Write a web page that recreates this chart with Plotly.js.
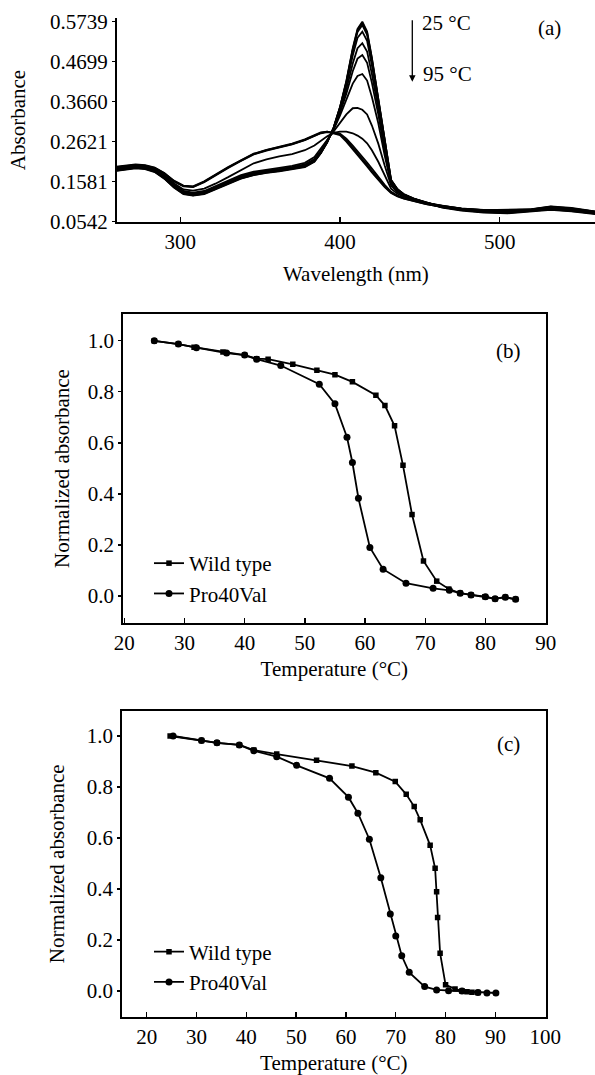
<!DOCTYPE html>
<html>
<head>
<meta charset="utf-8">
<script src="https://cdn.plot.ly/plotly-3.0.1.min.js"></script>
<style>html,body{margin:0;padding:0;background:#fff;}#chart{width:595px;height:1075px;}</style>
</head>
<body>
<div id="chart"></div>
<script>
// ---------- Panel (a): UV-vis spectra, 25 °C -> 95 °C ----------
const wavelength = [260, 266, 272, 278, 284, 290, 296, 302, 308, 315, 322, 330, 338, 346, 354, 362, 370, 378, 384, 388, 392, 396, 400, 404, 408, 411, 414, 417, 420, 424, 428, 432, 436, 440, 446, 454, 464, 476, 490, 505, 520, 532, 545, 560];
const abs25 = [0.186, 0.190, 0.193, 0.191, 0.183, 0.166, 0.143, 0.126, 0.122, 0.126, 0.138, 0.153, 0.166, 0.175, 0.181, 0.185, 0.190, 0.196, 0.210, 0.232, 0.260, 0.298, 0.352, 0.420, 0.505, 0.555, 0.574, 0.548, 0.480, 0.375, 0.260, 0.162, 0.138, 0.124, 0.113, 0.103, 0.096, 0.088, 0.085, 0.083, 0.086, 0.092, 0.088, 0.080];
const abs30 = [0.188, 0.192, 0.195, 0.193, 0.185, 0.167, 0.144, 0.127, 0.123, 0.127, 0.139, 0.154, 0.167, 0.176, 0.182, 0.186, 0.191, 0.197, 0.211, 0.233, 0.261, 0.298, 0.351, 0.418, 0.502, 0.552, 0.571, 0.545, 0.478, 0.374, 0.259, 0.163, 0.139, 0.125, 0.114, 0.104, 0.091, 0.083, 0.078, 0.076, 0.080, 0.085, 0.081, 0.074];
const abs40 = [0.187, 0.191, 0.194, 0.192, 0.184, 0.168, 0.145, 0.128, 0.124, 0.128, 0.140, 0.155, 0.168, 0.177, 0.183, 0.187, 0.192, 0.198, 0.212, 0.233, 0.261, 0.298, 0.350, 0.416, 0.498, 0.547, 0.565, 0.540, 0.473, 0.370, 0.257, 0.162, 0.138, 0.126, 0.115, 0.102, 0.095, 0.089, 0.084, 0.085, 0.087, 0.094, 0.090, 0.081];
const abs50 = [0.189, 0.193, 0.196, 0.194, 0.186, 0.169, 0.146, 0.129, 0.125, 0.129, 0.141, 0.156, 0.169, 0.178, 0.184, 0.188, 0.193, 0.199, 0.213, 0.234, 0.262, 0.297, 0.347, 0.409, 0.486, 0.532, 0.548, 0.524, 0.460, 0.362, 0.252, 0.160, 0.137, 0.124, 0.114, 0.104, 0.093, 0.085, 0.080, 0.078, 0.083, 0.087, 0.083, 0.075];
const abs60 = [0.188, 0.192, 0.195, 0.193, 0.186, 0.169, 0.147, 0.130, 0.126, 0.130, 0.142, 0.157, 0.170, 0.179, 0.185, 0.189, 0.194, 0.200, 0.214, 0.235, 0.263, 0.296, 0.342, 0.398, 0.465, 0.505, 0.518, 0.496, 0.438, 0.348, 0.245, 0.158, 0.136, 0.125, 0.113, 0.103, 0.094, 0.087, 0.083, 0.082, 0.085, 0.091, 0.086, 0.078];
const abs65 = [0.189, 0.193, 0.196, 0.194, 0.187, 0.170, 0.148, 0.131, 0.127, 0.131, 0.143, 0.158, 0.171, 0.180, 0.186, 0.190, 0.195, 0.201, 0.215, 0.236, 0.264, 0.295, 0.337, 0.387, 0.445, 0.478, 0.487, 0.467, 0.415, 0.333, 0.238, 0.156, 0.135, 0.124, 0.114, 0.104, 0.092, 0.084, 0.079, 0.077, 0.082, 0.086, 0.082, 0.076];
const abs70 = [0.190, 0.194, 0.197, 0.195, 0.188, 0.171, 0.149, 0.132, 0.128, 0.132, 0.144, 0.159, 0.172, 0.181, 0.187, 0.191, 0.196, 0.203, 0.217, 0.238, 0.265, 0.293, 0.330, 0.370, 0.413, 0.433, 0.438, 0.421, 0.378, 0.310, 0.226, 0.153, 0.134, 0.123, 0.113, 0.103, 0.095, 0.088, 0.084, 0.084, 0.086, 0.093, 0.089, 0.080];
const abs75 = [0.191, 0.195, 0.198, 0.196, 0.189, 0.172, 0.151, 0.134, 0.130, 0.134, 0.146, 0.161, 0.175, 0.184, 0.190, 0.194, 0.199, 0.207, 0.222, 0.244, 0.268, 0.290, 0.312, 0.333, 0.349, 0.350, 0.345, 0.333, 0.304, 0.257, 0.200, 0.148, 0.131, 0.122, 0.112, 0.102, 0.093, 0.086, 0.081, 0.079, 0.084, 0.088, 0.084, 0.077];
const abs80 = [0.192, 0.196, 0.199, 0.197, 0.190, 0.175, 0.154, 0.138, 0.135, 0.140, 0.153, 0.170, 0.188, 0.206, 0.216, 0.224, 0.230, 0.240, 0.252, 0.264, 0.276, 0.285, 0.288, 0.288, 0.284, 0.278, 0.270, 0.258, 0.240, 0.210, 0.175, 0.140, 0.127, 0.119, 0.111, 0.102, 0.092, 0.085, 0.082, 0.080, 0.085, 0.090, 0.087, 0.079];
const abs85 = [0.195, 0.198, 0.201, 0.199, 0.193, 0.179, 0.159, 0.146, 0.144, 0.157, 0.175, 0.194, 0.212, 0.229, 0.239, 0.247, 0.255, 0.266, 0.277, 0.284, 0.287, 0.286, 0.283, 0.270, 0.252, 0.238, 0.224, 0.208, 0.192, 0.170, 0.150, 0.132, 0.122, 0.116, 0.109, 0.101, 0.093, 0.086, 0.082, 0.081, 0.083, 0.089, 0.085, 0.076];
const abs90 = [0.196, 0.199, 0.202, 0.200, 0.194, 0.180, 0.160, 0.147, 0.145, 0.158, 0.176, 0.195, 0.213, 0.230, 0.240, 0.248, 0.256, 0.267, 0.278, 0.285, 0.288, 0.285, 0.281, 0.266, 0.247, 0.232, 0.217, 0.202, 0.186, 0.165, 0.146, 0.130, 0.121, 0.115, 0.108, 0.100, 0.092, 0.087, 0.083, 0.080, 0.086, 0.091, 0.087, 0.078];
const abs95 = [0.197, 0.200, 0.203, 0.201, 0.195, 0.181, 0.161, 0.148, 0.146, 0.159, 0.177, 0.196, 0.214, 0.231, 0.241, 0.249, 0.257, 0.268, 0.279, 0.286, 0.288, 0.284, 0.279, 0.262, 0.243, 0.228, 0.213, 0.198, 0.182, 0.162, 0.144, 0.129, 0.120, 0.114, 0.108, 0.100, 0.093, 0.085, 0.081, 0.079, 0.084, 0.088, 0.085, 0.077];
const spectraLabels = ['25 °C', '30 °C', '40 °C', '50 °C', '60 °C', '65 °C', '70 °C', '75 °C', '80 °C', '85 °C', '90 °C', '95 °C'];
const absTickVals = [0.0542, 0.1581, 0.2621, 0.3660, 0.4699, 0.5739];
const absTickText = ['0.0542', '0.1581', '0.2621', '0.3660', '0.4699', '0.5739'];

// ---------- Panel (b) ----------
const tempWT_b = [25, 29, 31.6, 36.4, 40, 42, 43.9, 48, 52, 55, 57.9, 61.8, 63.3, 64.9, 66.3, 67.8, 69.7, 71.9, 73.9, 75.8, 77.6, 79.9, 81.6, 83.3, 85];
const normWT_b = [1.0, 0.987, 0.975, 0.956, 0.944, 0.930, 0.928, 0.908, 0.885, 0.867, 0.839, 0.787, 0.746, 0.667, 0.512, 0.319, 0.137, 0.058, 0.027, 0.011, 0.004, -0.003, -0.011, -0.005, -0.013];
const tempPV_b = [25, 29, 32, 37, 40, 42, 46, 52.4, 55, 57, 57.9, 58.9, 60.8, 63, 66.8, 71.3, 74, 75.8, 77.6, 80, 81.6, 83.3, 85];
const normPV_b = [1.0, 0.987, 0.973, 0.952, 0.944, 0.928, 0.903, 0.830, 0.753, 0.622, 0.523, 0.383, 0.190, 0.105, 0.050, 0.030, 0.022, 0.011, 0.004, -0.003, -0.011, -0.005, -0.013];

// ---------- Panel (c) ----------
const tempWT_c = [24.7, 31, 34.1, 38.6, 41.5, 46.1, 54.1, 61.2, 66, 69.9, 72.1, 73.7, 74.9, 76.9, 77.9, 78.2, 78.4, 78.9, 80.0, 81.9, 83.3, 84.3, 85.3, 86.5];
const normWT_c = [1.0, 0.982, 0.973, 0.965, 0.945, 0.929, 0.905, 0.882, 0.856, 0.821, 0.771, 0.723, 0.671, 0.571, 0.481, 0.389, 0.288, 0.148, 0.024, 0.008, 0.0, -0.003, -0.005, -0.006];
const tempPV_c = [25.3, 31, 34.1, 38.6, 41.5, 46.1, 50.1, 56.7, 60.5, 62.4, 64.7, 67, 68.9, 70, 71.2, 72.7, 75.8, 78.2, 80.6, 83.3, 86.5, 88.3, 90.1];
const normPV_c = [1.0, 0.982, 0.973, 0.965, 0.942, 0.919, 0.885, 0.834, 0.760, 0.697, 0.595, 0.444, 0.302, 0.216, 0.138, 0.073, 0.017, 0.004, 0.001, 0.0, -0.006, -0.008, -0.008];

const seriesNames = ['Wild type', 'Pro40Val'];
const tempTickVals_b = [20, 30, 40, 50, 60, 70, 80, 90];
const tempTickVals_c = [20, 30, 40, 50, 60, 70, 80, 90, 100];
const normTickVals = [0.0, 0.2, 0.4, 0.6, 0.8, 1.0];

const W = 595, H = 1075;
const FONT = 'Liberation Serif, Times New Roman, serif';
const px = v => v / W;
const py = v => 1 - v / H;

const spectra = [abs25, abs30, abs40, abs50, abs60, abs65, abs70, abs75, abs80, abs85, abs90, abs95];
const traces = spectra.map((s, i) => ({
  x: wavelength, y: s, type: 'scatter', mode: 'lines', name: spectraLabels[i],
  line: {color: '#000', width: 1.8}, showlegend: false, xaxis: 'x', yaxis: 'y'
}));

function tempTraces(xw, yw, xp, yp, xa, ya, leg) {
  return [
    {x: xw, y: yw, type: 'scatter', mode: 'lines+markers', name: seriesNames[0],
     line: {color: '#000', width: 1.8}, marker: {symbol: 'square', size: 5.5, color: '#000'},
     xaxis: xa, yaxis: ya, legend: leg},
    {x: xp, y: yp, type: 'scatter', mode: 'lines+markers', name: seriesNames[1],
     line: {color: '#000', width: 1.8}, marker: {symbol: 'circle', size: 7, color: '#000'},
     xaxis: xa, yaxis: ya, legend: leg}
  ];
}
traces.push(...tempTraces(tempWT_b, normWT_b, tempPV_b, normPV_b, 'x2', 'y2', 'legend'));
traces.push(...tempTraces(tempWT_c, normWT_c, tempPV_c, normPV_c, 'x3', 'y3', 'legend2'));

const axBase = {
  showline: true, linecolor: '#000', linewidth: 1.8, ticks: 'inside', ticklen: 5, tickwidth: 1.3,
  tickcolor: '#000', showgrid: false, zeroline: false, automargin: false,
  tickfont: {family: FONT, size: 21, color: '#000'}
};
const yBase = Object.assign({}, axBase, {ticks: 'outside', ticklen: 3});
const titleFont = {family: FONT, size: 21, color: '#000'};

const layout = {
  width: W, height: H, margin: {l: 0, r: 0, t: 0, b: 0},
  paper_bgcolor: '#fff', plot_bgcolor: '#fff',
  font: {family: FONT, size: 21, color: '#000'},
  xaxis: Object.assign({}, axBase, {
    domain: [px(116.7), 1], range: [260.2, 559.7], tickvals: [300, 400, 500],
    anchor: 'y', title: {text: 'Wavelength (nm)', font: titleFont, standoff: 13}
  }),
  yaxis: Object.assign({}, yBase, {
    domain: [py(221.7), py(18.3)], range: [0.0542, 0.5827], tickvals: absTickVals, ticktext: absTickText,
    anchor: 'x', title: {text: 'Absorbance', font: titleFont, standoff: 19}
  }),
  xaxis2: Object.assign({}, axBase, {
    domain: [px(123), px(545.7)], range: [19.8, 90.0], tickvals: tempTickVals_b, mirror: true,
    anchor: 'y2', title: {text: 'Temperature (°C)', font: titleFont, standoff: 7}
  }),
  yaxis2: Object.assign({}, yBase, {
    domain: [py(623), py(314)], range: [-0.106, 1.105], tickvals: normTickVals, tickformat: '.1f', mirror: true,
    anchor: 'x2', title: {text: 'Normalized absorbance', font: titleFont, standoff: 12}
  }),
  xaxis3: Object.assign({}, axBase, {
    domain: [px(122), px(545.7)], range: [15.04, 100.1], tickvals: tempTickVals_c, mirror: true,
    anchor: 'y3', title: {text: 'Temperature (°C)', font: titleFont, standoff: 24}
  }),
  yaxis3: Object.assign({}, yBase, {
    domain: [py(1016.7), py(711)], range: [-0.101, 1.098], tickvals: normTickVals, tickformat: '.1f', mirror: true,
    anchor: 'x3', title: {text: 'Normalized absorbance', font: titleFont, standoff: 16}
  }),
  legend: {x: px(149), y: py(543), xanchor: 'left', yanchor: 'top', bgcolor: 'rgba(0,0,0,0)',
           font: {family: FONT, size: 21, color: '#000'}, tracegroupgap: 0, itemwidth: 30},
  legend2: {x: px(149), y: py(931.5), xanchor: 'left', yanchor: 'top', bgcolor: 'rgba(0,0,0,0)',
            font: {family: FONT, size: 21, color: '#000'}, tracegroupgap: 0, itemwidth: 30},
  annotations: [
    {text: '(a)', x: px(549), y: py(28.3), xref: 'paper', yref: 'paper', showarrow: false, xanchor: 'center', yanchor: 'middle', font: {family: FONT, size: 21}},
    {text: '25 °C', x: px(446), y: py(23.3), xref: 'paper', yref: 'paper', showarrow: false, xanchor: 'center', yanchor: 'middle', font: {family: FONT, size: 21}},
    {text: '95 °C', x: px(447), y: py(74), xref: 'paper', yref: 'paper', showarrow: false, xanchor: 'center', yanchor: 'middle', font: {family: FONT, size: 21}},
    {text: '', x: px(412.3), y: py(81.7), xref: 'paper', yref: 'paper', showarrow: true, ax: 0, ay: -63,
     arrowhead: 2, arrowsize: 1, arrowwidth: 1.3, arrowcolor: '#000'},
    {text: '(b)', x: px(508.3), y: py(350.7), xref: 'paper', yref: 'paper', showarrow: false, xanchor: 'center', yanchor: 'middle', font: {family: FONT, size: 21}},
    {text: '(c)', x: px(508.3), y: py(744.3), xref: 'paper', yref: 'paper', showarrow: false, xanchor: 'center', yanchor: 'middle', font: {family: FONT, size: 21}}
  ]
};

Plotly.newPlot('chart', traces, layout, {displayModeBar: false, staticPlot: true});
</script>
</body>
</html>
